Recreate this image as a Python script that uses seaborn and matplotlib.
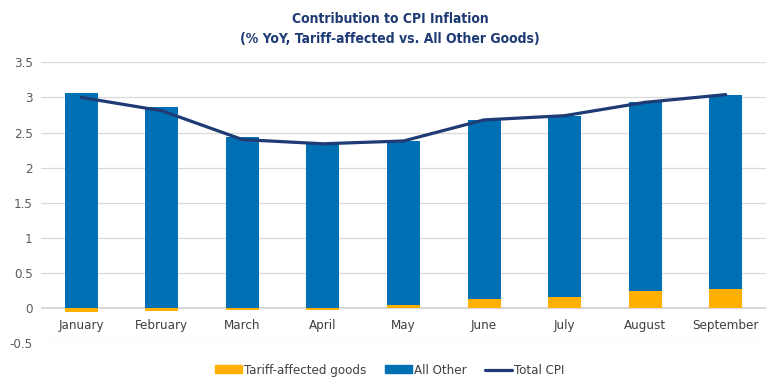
import numpy as np
import pandas as pd
import matplotlib
matplotlib.use("Agg")
import matplotlib.pyplot as plt
import seaborn as sns
from matplotlib.patches import Patch
from matplotlib.lines import Line2D

months = ["January", "February", "March", "April", "May", "June", "July", "August", "September"]
tariff = [-0.06, -0.04, -0.03, -0.02, 0.04, 0.13, 0.16, 0.24, 0.27]
all_other = [3.06, 2.86, 2.43, 2.33, 2.34, 2.55, 2.58, 2.70, 2.77]
total_cpi = [3.00, 2.81, 2.40, 2.34, 2.38, 2.68, 2.74, 2.93, 3.04]
yticks = [-0.5, 0, 0.5, 1, 1.5, 2, 2.5, 3, 3.5]

c_orange = "#FFB000"
c_blue = "#0070B5"
c_line = "#1F3B75"
c_text = "#595959"

sns.set_theme(style="white")
plt.rcParams["font.family"] = ["DejaVu Sans"]
plt.rcParams["font.stretch"] = "condensed"

df = pd.DataFrame({"month": months, "tariff": tariff, "other": all_other, "total": total_cpi})
df["blue_top"] = df["other"] + df["tariff"].clip(lower=0)

fig = plt.figure(figsize=(7.8, 3.9), dpi=100)
ax = fig.add_axes([0.0526, 0.1197, 0.9294, 0.7206])

sns.barplot(data=df, x="month", y="blue_top", color=c_blue, saturation=1, width=0.41, ax=ax, linewidth=0)
sns.barplot(data=df, x="month", y="tariff", color=c_orange, saturation=1, width=0.41, ax=ax, linewidth=0)
sns.lineplot(data=df, x="month", y="total", color=c_line, linewidth=2.3, ax=ax, sort=False)

ax.set_ylim(-0.5, 3.5)
ax.set_xlim(-0.5, len(months) - 0.5)
ax.set_yticks(yticks)
ax.set_yticklabels([f"{v:g}" for v in yticks])
ax.set_xlabel("")
ax.set_ylabel("")
ax.grid(axis="y", color="#D9D9D9", linewidth=0.9)
ax.set_axisbelow(True)
ax.axhline(0, color="#D0D0D0", linewidth=1.2, zorder=0.5)
for s in ax.spines.values():
    s.set_visible(False)
ax.spines["bottom"].set_position(("data", 0))
ax.tick_params(axis="both", length=0, labelsize=9.5, colors=c_text, pad=6)
for lbl in ax.get_xticklabels():
    lbl.set_color("#404040")
ax.tick_params(axis="x", pad=8)

fig.text(0.5, 0.952, "Contribution to CPI Inflation", ha="center", va="center",
         fontsize=10, fontweight="bold", color=c_line)
fig.text(0.5, 0.900, "(% YoY, Tariff-affected vs. All Other Goods)", ha="center", va="center",
         fontsize=10, fontweight="bold", color=c_line)

handles = [Patch(color=c_orange, label="Tariff-affected goods"),
           Patch(color=c_blue, label="All Other"),
           Line2D([0], [0], color=c_line, linewidth=2.3, label="Total CPI")]
fig.legend(handles=handles, loc="center", bbox_to_anchor=(0.5, 0.05), ncol=3, frameon=False,
           fontsize=9.5, handlelength=2.0, handleheight=0.55, columnspacing=1.4, handletextpad=0.2,
           labelcolor="#404040")

fig.savefig("out.png", dpi=100)
